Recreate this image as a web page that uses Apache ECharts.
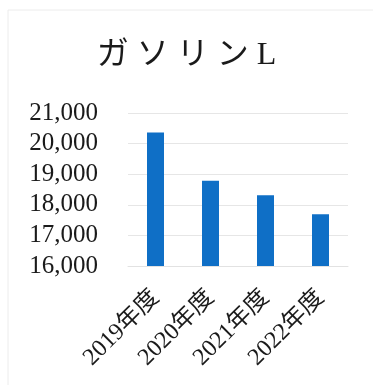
<!DOCTYPE html>
<html>
<head>
<meta charset="utf-8">
<script src="https://cdn.jsdelivr.net/npm/echarts@6/dist/echarts.min.js"></script>
<style>
  html, body { margin: 0; padding: 0; background: #fff; }
  #chart { width: 373px; height: 385px; }
</style>
</head>
<body>
<div id="chart"></div>
<script>
// Gasoline usage (litres) per fiscal year
const categories = ['2019年度', '2020年度', '2021年度', '2022年度'];
const litres = [20360, 18790, 18310, 17690];
const yTicks = [16000, 17000, 18000, 19000, 20000, 21000];

const serif = "'Liberation Serif', 'DejaVu Serif', 'Noto Sans CJK JP', serif";

const chart = echarts.init(document.getElementById('chart'));
chart.setOption({
  backgroundColor: '#ffffff',
  animation: false,
  title: {
    text: 'ガ ソ リ ン L',
    left: 'center',
    top: 35,
    textStyle: { fontFamily: serif, fontSize: 32, fontWeight: 'normal', color: '#1a1a1a' }
  },
  graphic: [{
    type: 'rect',
    shape: { x: 8, y: 10, width: 372, height: 380 },
    style: { fill: 'none', stroke: '#ececec', lineWidth: 1 },
    silent: true
  }],
  grid: { left: 128, right: 25, top: 113, bottom: 119 },
  xAxis: {
    type: 'category',
    data: categories,
    axisLine: { show: true, lineStyle: { color: '#e2e2e2' } },
    axisTick: { show: false },
    axisLabel: {
      rotate: 45, margin: 28, interval: 0,
      fontFamily: serif, fontSize: 24, color: '#1a1a1a'
    }
  },
  yAxis: {
    type: 'value',
    min: yTicks[0],
    max: yTicks[yTicks.length - 1],
    interval: 1000,
    axisLine: { show: false },
    axisTick: { show: false },
    splitLine: { lineStyle: { color: '#e6e6e6', width: 1 } },
    axisLabel: {
      margin: 30,
      fontFamily: serif, fontSize: 25, color: '#1a1a1a',
      formatter: v => v.toLocaleString('en-US')
    }
  },
  series: [{
    type: 'bar',
    data: litres,
    barWidth: 17,
    itemStyle: { color: '#0f6fc6' }
  }]
});
</script>
</body>
</html>
